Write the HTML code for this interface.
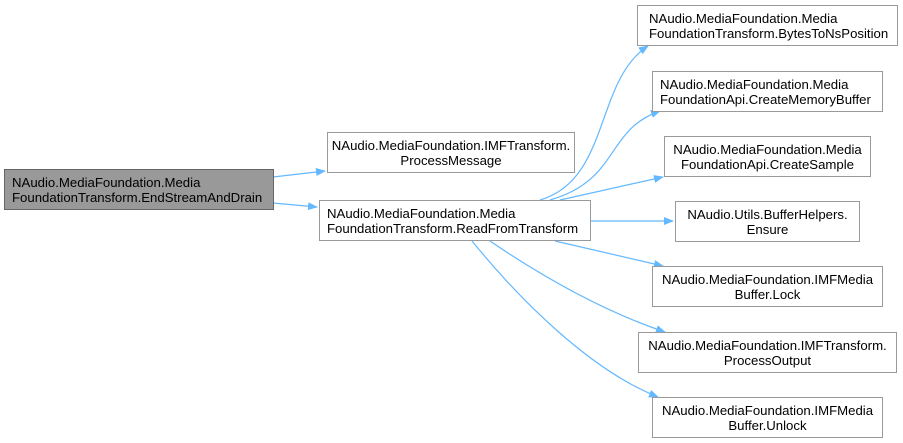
<!DOCTYPE html>
<html><head><meta charset="utf-8"><style>
body{margin:0;background:#fff;width:903px;height:443px;overflow:hidden;position:relative;font-family:"Liberation Sans",Arial,sans-serif;font-size:13.2px;color:#000}
.n{position:absolute;box-sizing:border-box;border:1px solid #999;background:#fff;line-height:15px;padding:5px 0 0 7px;white-space:nowrap}
.c{text-align:center;padding-left:0}
svg{position:absolute;left:0;top:0}
</style></head><body>
<svg width="903" height="443"><defs><marker id="a" markerWidth="10" markerHeight="8" refX="9" refY="4" orient="auto" markerUnits="userSpaceOnUse"><path d="M0,0L10,4L0,8z" fill="#63b8ff"/></marker></defs>
<g fill="none" stroke="#63b8ff" stroke-width="1.2" marker-end="url(#a)">
<path d="M273,177L325,171"/>
<path d="M273,203L317,207"/>
<path d="M540,200C610,180 595,80 648,46"/>
<path d="M550,200C620,180 605,130 660,111"/>
<path d="M560,200L663,177"/>
<path d="M590,221L673,221"/>
<path d="M555,241L663,266"/>
<path d="M490,241C540,275 600,310 665,332"/>
<path d="M472,241C520,300 590,370 658,397"/>
</g></svg>
<div class="n" style="left:4px;top:169px;width:270px;height:41px;background:#999;border-color:#666">NAudio.MediaFoundation.Media<br>FoundationTransform.EndStreamAndDrain</div>
<div class="n c" style="left:327px;top:132px;width:248px;height:41px">NAudio.MediaFoundation.IMFTransform.<br>ProcessMessage</div>
<div class="n" style="left:319px;top:200px;width:272px;height:41px">NAudio.MediaFoundation.Media<br>FoundationTransform.ReadFromTransform</div>
<div class="n" style="left:637px;top:5px;width:261px;height:41px;padding-left:11px">NAudio.MediaFoundation.Media<br>FoundationTransform.BytesToNsPosition</div>
<div class="n" style="left:652px;top:71px;width:231px;height:41px">NAudio.MediaFoundation.Media<br>FoundationApi.CreateMemoryBuffer</div>
<div class="n c" style="left:664px;top:136px;width:207px;height:41px">NAudio.MediaFoundation.Media<br>FoundationApi.CreateSample</div>
<div class="n c" style="left:675px;top:201px;width:185px;height:41px">NAudio.Utils.BufferHelpers.<br>Ensure</div>
<div class="n c" style="left:652px;top:266px;width:231px;height:41px">NAudio.MediaFoundation.IMFMedia<br>Buffer.Lock</div>
<div class="n c" style="left:638px;top:332px;width:259px;height:41px">NAudio.MediaFoundation.IMFTransform.<br>ProcessOutput</div>
<div class="n c" style="left:652px;top:397px;width:231px;height:41px">NAudio.MediaFoundation.IMFMedia<br>Buffer.Unlock</div>
</body></html>
